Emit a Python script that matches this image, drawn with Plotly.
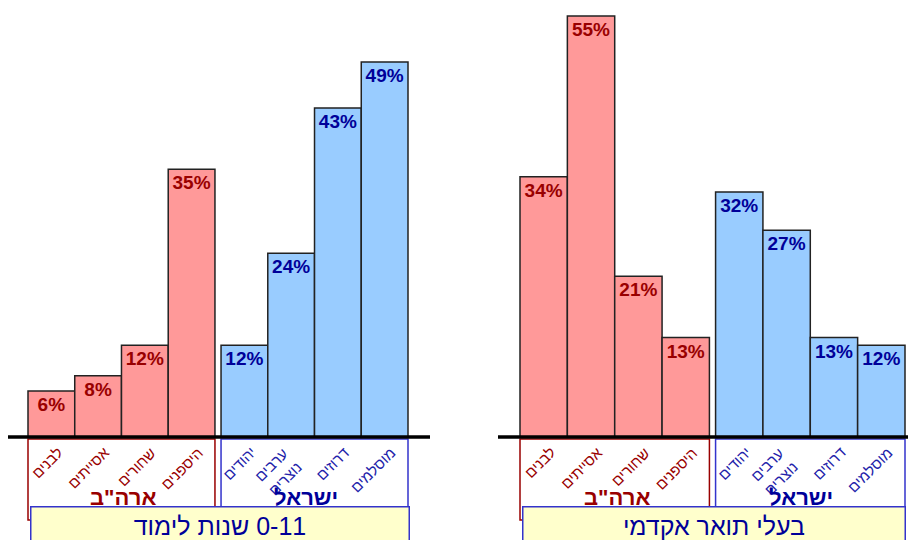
import plotly.graph_objects as go

# ---------------- data ----------------
cats_usa = ["לבנים", "אסייתים", "שחורים", "היספנים"]
cats_isr = ["יהודים", "ערבים<br>נוצרים", "דרוזים", "מוסלמים"]
group_usa = 'ארה"ב'
group_isr = "ישראל"

low_usa = [6, 8, 12, 35]
low_isr = [12, 24, 43, 49]
acad_usa = [34, 55, 21, 13]
acad_isr = [32, 27, 13, 12]

# right-to-left isolate so the mixed string reads as in the reference
title_low = "\u20670-11 שנות לימוד\u2069"
title_acad = "בעלי תואר אקדמי"

# ---------------- style ----------------
W, H = 908, 540
FONT = "Liberation Sans, Arial, DejaVu Sans, sans-serif"
RED_FILL, BLUE_FILL = "#FF9999", "#99CCFF"
RED_TXT, BLUE_TXT = "#990000", "#000099"
BLUE_CAT = "#2222AA"
GAP = 0.13
BASE_PX = 437
YMAX = 57.1


def px(p):
    return p / W


def py(p):
    return 1 - p / H


pos_usa = list(range(4))
pos_isr = [i + 4 + GAP for i in range(4)]
span = 8 + GAP


def xrange_for(dom0_px, dom1_px, first_edge_px, last_edge_px):
    u = (last_edge_px - first_edge_px) / span
    r0 = -0.5 - (first_edge_px - dom0_px) / u
    r1 = r0 + (dom1_px - dom0_px) / u
    return [r0, r1]


fig = go.Figure()

panels = [
    dict(xa="x", ya="y", usa=low_usa, isr=low_isr, title=title_low,
         box=(30, 409), base=(8, 430)),
    dict(xa="x2", ya="y2", usa=acad_usa, isr=acad_isr, title=title_acad,
         box=(522, 905), base=(498, 908)),
]

for p in panels:
    for pos, vals, fill, tc in [(pos_usa, p["usa"], RED_FILL, RED_TXT),
                                (pos_isr, p["isr"], BLUE_FILL, BLUE_TXT)]:
        fig.add_trace(go.Bar(
            x=pos, y=vals, width=1,
            xaxis=p["xa"], yaxis=p["ya"],
            marker=dict(color=fill, line=dict(color="#222222", width=1.5)),
            text=[f"{v}%" for v in vals],
            textposition="inside", insidetextanchor="end",
            textangle=0, constraintext="none",
            insidetextfont=dict(family=FONT, size=19, color=tc, weight="bold"),
            cliponaxis=False, showlegend=False, hoverinfo="skip",
        ))

fig.update_layout(
    width=W, height=H, autosize=False,
    margin=dict(l=0, r=0, t=0, b=0),
    paper_bgcolor="white", plot_bgcolor="white",
    barmode="overlay",
    uniformtext=dict(minsize=19, mode="show"),
    xaxis=dict(domain=[0, 0.5], range=xrange_for(0, 454, 28, 408), visible=False, fixedrange=True),
    xaxis2=dict(domain=[0.5, 1], range=xrange_for(454, 908, 520, 905), visible=False, fixedrange=True),
    yaxis=dict(domain=[py(BASE_PX), 1], range=[0, YMAX], visible=False, anchor="x", fixedrange=True),
    yaxis2=dict(domain=[py(BASE_PX), 1], range=[0, YMAX], visible=False, anchor="x2", fixedrange=True),
)

shapes = []
annotations = []
for p in panels:
    xa = p["xa"]
    for pos, col in [(pos_usa, RED_TXT), (pos_isr, "#3333CC")]:
        shapes.append(dict(type="rect", xref=xa, yref="paper",
                           x0=pos[0] - 0.5, x1=pos[-1] + 0.5,
                           y0=py(439), y1=py(520),
                           line=dict(color=col, width=1.5), fillcolor="rgba(0,0,0,0)",
                           layer="above"))
    shapes.append(dict(type="line", xref="paper", yref="paper",
                       x0=px(p["base"][0]), x1=px(p["base"][1]),
                       y0=py(BASE_PX), y1=py(BASE_PX),
                       line=dict(color="black", width=3.5), layer="above"))
    for pos, cats, col in [(pos_usa, cats_usa, RED_TXT), (pos_isr, cats_isr, BLUE_CAT)]:
        for xp, c in zip(pos, cats):
            annotations.append(dict(
                xref=xa, yref="paper", x=xp + 0.5, y=py(441),
                xanchor="right", yanchor="top", xshift=-6,
                text=c, showarrow=False, textangle=-45,
                font=dict(family=FONT, size=15, color=col),
            ))
    for pos, g, col, sh in [(pos_usa, group_usa, RED_TXT, 2), (pos_isr, group_isr, BLUE_TXT, -9)]:
        annotations.append(dict(
            xref=xa, yref="paper", x=(pos[0] + pos[-1]) / 2, y=py(497),
            xanchor="center", yanchor="middle", xshift=sh,
            text=g, showarrow=False,
            font=dict(family=FONT, size=22, color=col, weight="bold"),
        ))

for p in panels:
    x0, x1 = p["box"]
    annotations.append(dict(
        xref="paper", yref="paper", x=px((x0 + x1) / 2), y=py(506),
        xanchor="center", yanchor="top",
        width=x1 - x0 - 2, height=36, align="center", valign="middle",
        text=p["title"], showarrow=False,
        bgcolor="#FFFFCC", bordercolor="#3333CC", borderwidth=1.5, borderpad=0,
        font=dict(family=FONT, size=25, color=BLUE_TXT),
    ))

fig.update_layout(shapes=shapes, annotations=annotations)
fig.write_html("out.html", config={"displayModeBar": False, "staticPlot": True},
               post_script="document.body.style.margin='0';")
